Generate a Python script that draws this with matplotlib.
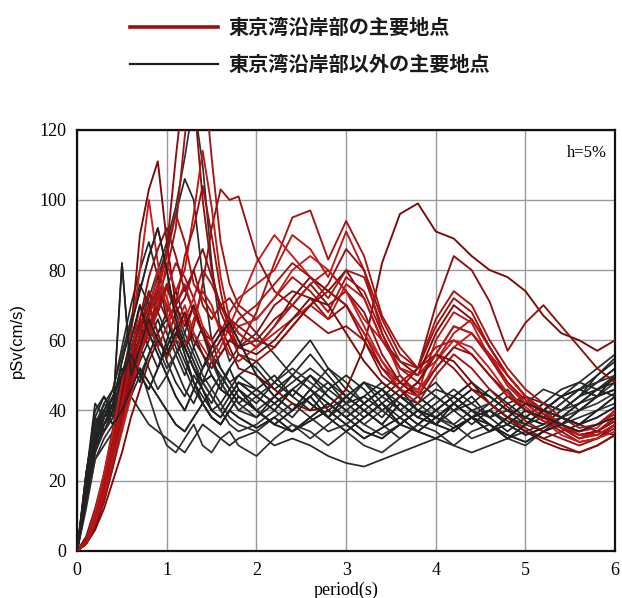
import numpy as np
import matplotlib
matplotlib.use("Agg")
import matplotlib.pyplot as plt
from matplotlib.lines import Line2D

# Natural period grid (s): 0.1 s steps up to 1.8 s, then 0.2 s steps
period = [0.0, 0.1, 0.2, 0.3, 0.4, 0.5, 0.6, 0.7, 0.8, 0.9,
          1.0, 1.1, 1.2, 1.3, 1.4, 1.5, 1.6, 1.7, 1.8,
          2.0, 2.2, 2.4, 2.6, 2.8, 3.0, 3.2, 3.4, 3.6, 3.8, 4.0,
          4.2, 4.4, 4.6, 4.8, 5.0, 5.2, 5.4, 5.6, 5.8, 6.0]

# Pseudo velocity response spectra, Tokyo Bay coastal sites (cm/s)
coastal_01 = [0, 4, 12, 22, 35, 48, 55, 60, 68, 72, 66, 70, 75, 68, 62, 60, 64, 58, 52,
              50, 46, 42, 40, 41, 46, 58, 82, 96, 99, 91, 89, 84, 80, 78, 74, 67, 62, 60, 57, 60]
coastal_02 = [0, 3, 10, 20, 30, 42, 50, 58, 62, 70, 75, 68, 72, 80, 70, 66, 70, 72, 68,
              62, 70, 74, 72, 66, 70, 62, 52, 48, 52, 70, 84, 80, 71, 57, 65, 70, 64, 58, 52, 48]
coastal_03 = [0, 2, 8, 16, 26, 38, 48, 56, 62, 68, 75, 82, 78, 72, 80, 76, 70, 64, 58,
              68, 82, 95, 97, 83, 94, 84, 67, 58, 52, 58, 60, 56, 50, 44, 40, 37, 35, 33, 34, 38]
coastal_04 = [0, 3, 9, 18, 28, 40, 52, 60, 66, 58, 64, 70, 76, 68, 62, 58, 62, 68, 72,
              76, 80, 90, 86, 78, 91, 80, 62, 50, 45, 60, 68, 65, 55, 47, 42, 38, 35, 32, 33, 36]
coastal_05 = [0, 2, 7, 14, 24, 34, 44, 55, 68, 80, 72, 64, 70, 62, 58, 54, 58, 64, 70,
              82, 90, 84, 78, 74, 70, 62, 54, 48, 46, 52, 58, 62, 56, 48, 42, 38, 35, 34, 35, 40]
coastal_06 = [0, 3, 10, 20, 32, 44, 56, 64, 70, 62, 55, 60, 58, 64, 76, 92, 103, 100, 101,
              84, 74, 70, 66, 62, 64, 60, 52, 46, 42, 50, 56, 52, 46, 41, 37, 34, 32, 30, 32, 35]
coastal_07 = [0, 2, 8, 18, 30, 45, 62, 90, 103, 111, 88, 70, 64, 70, 62, 56, 60, 66, 62,
              58, 64, 72, 78, 74, 80, 72, 60, 54, 50, 62, 70, 66, 58, 50, 44, 40, 36, 33, 34, 37]
coastal_08 = [0, 2, 6, 14, 24, 36, 48, 58, 68, 76, 86, 112, 135, 130, 100, 80, 68, 62, 58,
              60, 66, 70, 76, 70, 74, 68, 56, 48, 44, 52, 58, 56, 50, 45, 40, 37, 34, 31, 32, 36]
coastal_09 = [0, 2, 7, 15, 25, 36, 46, 56, 64, 72, 80, 92, 118, 138, 140, 112, 88, 76, 70,
              66, 72, 78, 74, 68, 78, 74, 62, 52, 48, 56, 64, 62, 55, 48, 43, 39, 35, 32, 34, 38]
coastal_10 = [0, 3, 9, 19, 30, 42, 54, 66, 60, 70, 82, 74, 80, 96, 114, 98, 78, 66, 62,
              58, 62, 66, 70, 66, 76, 72, 60, 52, 50, 54, 62, 66, 58, 50, 44, 40, 36, 34, 36, 40]
coastal_11 = [0, 3, 11, 22, 34, 48, 62, 80, 100, 82, 68, 60, 66, 72, 64, 60, 56, 60, 64,
              66, 72, 80, 84, 80, 74, 64, 54, 46, 44, 54, 60, 58, 52, 45, 41, 37, 33, 31, 32, 34]
coastal_12 = [0, 2, 8, 17, 28, 40, 50, 62, 74, 68, 76, 70, 84, 92, 104, 90, 74, 62, 56,
              54, 58, 64, 70, 76, 86, 80, 66, 56, 52, 64, 72, 68, 58, 50, 44, 39, 36, 33, 34, 37]
coastal_13 = [0, 2, 6, 12, 20, 28, 38, 46, 54, 60, 56, 62, 68, 60, 56, 52, 56, 60, 58,
              56, 60, 66, 72, 70, 62, 54, 48, 44, 48, 56, 54, 48, 42, 38, 34, 31, 29, 28, 30, 33]
coastal_14 = [0, 2, 7, 16, 26, 38, 52, 66, 78, 86, 92, 84, 74, 80, 86, 78, 70, 66, 64,
              60, 58, 64, 70, 74, 70, 60, 50, 46, 52, 56, 52, 46, 42, 38, 35, 32, 30, 28, 30, 33]
coastal_15 = [0, 3, 9, 18, 28, 40, 56, 70, 62, 74, 84, 96, 88, 76, 72, 68, 64, 62, 66,
              70, 76, 82, 78, 72, 80, 78, 64, 54, 52, 66, 74, 70, 60, 52, 46, 42, 38, 35, 36, 39]
coastal_16 = [0, 2, 8, 16, 26, 36, 46, 56, 66, 76, 70, 64, 58, 66, 74, 70, 62, 56, 54,
              58, 64, 70, 76, 80, 74, 66, 60, 52, 50, 56, 64, 62, 56, 50, 44, 40, 36, 33, 33, 36]

# Pseudo velocity response spectra, other major sites (cm/s)
inland_01 = [0, 22, 38, 34, 40, 82, 50, 58, 66, 60, 56, 62, 58, 52, 48, 50, 46, 44, 48,
             44, 40, 46, 42, 38, 44, 40, 36, 42, 38, 36, 42, 38, 34, 38, 42, 40, 44, 46, 44, 50]
inland_02 = [0, 18, 34, 40, 36, 44, 52, 62, 70, 78, 86, 96, 106, 100, 78, 60, 52, 48, 50,
             54, 48, 44, 50, 46, 42, 48, 44, 40, 44, 48, 42, 38, 42, 46, 40, 38, 42, 46, 48, 52]
inland_03 = [0, 16, 30, 38, 42, 48, 56, 64, 72, 80, 88, 98, 112, 128, 110, 82, 62, 54, 58,
             62, 56, 50, 46, 52, 48, 42, 46, 50, 44, 40, 44, 48, 42, 38, 42, 46, 44, 40, 44, 48]
inland_04 = [0, 20, 36, 42, 38, 46, 54, 48, 56, 62, 54, 48, 44, 50, 46, 42, 48, 52, 46,
             42, 48, 54, 60, 52, 46, 42, 38, 44, 40, 36, 40, 44, 38, 34, 38, 42, 40, 44, 48, 52]
inland_05 = [0, 14, 28, 36, 40, 50, 60, 70, 62, 56, 50, 44, 40, 46, 52, 58, 62, 65, 60,
             50, 44, 40, 46, 42, 38, 42, 46, 40, 36, 40, 44, 40, 36, 32, 36, 40, 38, 36, 40, 44]
inland_06 = [0, 12, 26, 30, 34, 38, 44, 40, 36, 34, 32, 30, 28, 32, 36, 34, 32, 30, 32,
             34, 30, 32, 30, 27, 25, 24, 26, 28, 30, 32, 30, 28, 30, 32, 34, 32, 34, 36, 34, 33]
inland_07 = [0, 15, 30, 34, 38, 42, 48, 52, 44, 36, 30, 28, 32, 36, 30, 28, 32, 34, 30,
             27, 32, 36, 34, 30, 34, 30, 28, 32, 36, 34, 30, 34, 36, 32, 30, 34, 36, 38, 40, 42]
inland_08 = [0, 20, 40, 44, 38, 48, 56, 64, 58, 52, 60, 68, 60, 54, 48, 44, 40, 44, 48,
             46, 42, 38, 44, 48, 42, 38, 42, 46, 40, 38, 42, 46, 44, 40, 36, 40, 44, 46, 50, 54]
inland_09 = [0, 17, 32, 36, 42, 54, 64, 74, 84, 92, 80, 66, 58, 52, 46, 40, 38, 42, 46,
             40, 36, 40, 44, 38, 34, 38, 42, 36, 34, 38, 42, 38, 34, 36, 40, 38, 36, 40, 44, 46]
inland_10 = [0, 19, 35, 40, 44, 50, 58, 66, 74, 68, 62, 56, 50, 58, 64, 56, 48, 44, 40,
             38, 44, 50, 46, 40, 44, 48, 42, 38, 42, 46, 44, 40, 38, 42, 44, 40, 38, 42, 46, 50]
inland_11 = [0, 14, 28, 34, 38, 44, 50, 58, 64, 70, 76, 70, 62, 56, 50, 46, 42, 38, 36,
             34, 38, 42, 38, 34, 36, 40, 36, 32, 36, 40, 36, 32, 34, 38, 36, 34, 38, 40, 42, 45]
inland_12 = [0, 21, 42, 38, 44, 52, 46, 54, 60, 66, 58, 52, 46, 42, 48, 54, 50, 46, 42,
             46, 50, 44, 40, 46, 50, 46, 40, 44, 48, 44, 40, 42, 46, 42, 38, 36, 40, 44, 50, 55]
inland_13 = [0, 16, 32, 40, 36, 40, 46, 52, 48, 44, 40, 36, 34, 38, 42, 38, 36, 40, 44,
             40, 36, 34, 38, 42, 38, 34, 32, 36, 40, 36, 34, 38, 40, 36, 33, 35, 38, 36, 38, 41]
inland_14 = [0, 18, 34, 42, 46, 56, 66, 76, 70, 62, 68, 74, 66, 58, 52, 56, 52, 48, 44,
             40, 44, 48, 52, 48, 44, 48, 46, 42, 38, 42, 46, 42, 38, 40, 44, 42, 40, 44, 46, 49]
inland_15 = [0, 13, 26, 32, 36, 42, 48, 56, 64, 58, 52, 56, 60, 54, 48, 44, 40, 36, 34,
             36, 40, 36, 32, 36, 40, 36, 33, 36, 40, 38, 35, 38, 40, 37, 34, 36, 40, 42, 44, 46]
inland_16 = [0, 20, 38, 44, 40, 46, 54, 60, 68, 74, 70, 64, 58, 62, 56, 50, 46, 52, 56,
             52, 46, 50, 56, 50, 44, 40, 44, 48, 44, 40, 44, 48, 44, 40, 38, 42, 46, 48, 46, 44]
inland_17 = [0, 15, 30, 38, 44, 50, 56, 50, 46, 52, 58, 64, 56, 48, 42, 38, 36, 40, 38,
             35, 38, 34, 37, 40, 36, 32, 35, 38, 34, 32, 35, 38, 36, 33, 31, 34, 36, 34, 36, 38]
inland_18 = [0, 22, 36, 40, 46, 58, 70, 80, 88, 78, 66, 58, 52, 46, 42, 46, 50, 46, 42,
             38, 42, 46, 42, 38, 42, 44, 40, 36, 40, 44, 40, 36, 40, 44, 42, 40, 44, 48, 52, 56]
inland_19 = [0, 16, 31, 36, 40, 46, 52, 58, 52, 46, 50, 56, 62, 70, 62, 54, 48, 44, 40,
             44, 48, 52, 48, 44, 40, 36, 40, 44, 42, 38, 36, 40, 42, 38, 36, 38, 42, 46, 48, 50]
inland_20 = [0, 18, 33, 38, 42, 48, 44, 50, 56, 62, 66, 60, 54, 48, 44, 40, 42, 46, 50,
             46, 42, 46, 50, 44, 40, 44, 48, 44, 40, 38, 42, 46, 44, 40, 38, 36, 38, 42, 46, 48]

coastal_sites = [coastal_01, coastal_02, coastal_03, coastal_04, coastal_05, coastal_06,
                 coastal_07, coastal_08, coastal_09, coastal_10, coastal_11, coastal_12,
                 coastal_13, coastal_14, coastal_15, coastal_16]
inland_sites = [inland_01, inland_02, inland_03, inland_04, inland_05, inland_06,
                inland_07, inland_08, inland_09, inland_10, inland_11, inland_12,
                inland_13, inland_14, inland_15, inland_16, inland_17, inland_18,
                inland_19, inland_20]

legend_labels = ["東京湾沿岸部の主要地点", "東京湾沿岸部以外の主要地点"]
x_ticks = [0, 1, 2, 3, 4, 5, 6]
y_ticks = [0, 20, 40, 60, 80, 100, 120]

red_shades = ["#7a0909", "#8e0f0f", "#a51414", "#b81818", "#c41e1e", "#9c1010"]
dark_shades = ["#1b1b1b", "#262a27", "#303030", "#1f2622"]

fig = plt.figure(figsize=(6.22, 5.98), dpi=100)
ax = fig.add_axes([0.124, 0.079, 0.865, 0.704])

for i, s in enumerate(inland_sites):
    ax.plot(period, s, color=dark_shades[i % len(dark_shades)], lw=1.25,
            solid_joinstyle="round", zorder=2)
for i, s in enumerate(coastal_sites):
    ax.plot(period, s, color=red_shades[i % len(red_shades)], lw=1.35,
            solid_joinstyle="round", zorder=3)
# redraw a few inland spectra on top so the two groups interleave
for s in inland_sites[::4]:
    ax.plot(period, s, color="#222222", lw=1.15, solid_joinstyle="round", zorder=4)

ax.set_xlim(0, 6)
ax.set_ylim(0, 120)
ax.set_xticks(x_ticks)
ax.set_yticks(y_ticks)
serif = "Liberation Serif"
ax.set_xticklabels([str(v) for v in x_ticks], family=serif, fontsize=13)
ax.set_yticklabels([str(v) for v in y_ticks], family=serif, fontsize=13)
ax.tick_params(length=0, pad=8)
ax.grid(True, color="#9a9a9a", lw=1.0)
ax.set_axisbelow(True)
for sp in ax.spines.values():
    sp.set_linewidth(1.6)
    sp.set_color("#111111")

ax.set_xlabel("period(s)", family=serif, fontsize=13, labelpad=2)
ax.set_ylabel("pSv(cm/s)", family="Liberation Sans", fontsize=12, labelpad=10)
ax.text(0.985, 0.965, "h=5%", transform=ax.transAxes, ha="right", va="top",
        family=serif, fontsize=12)

# Legend drawn in figure coordinates above the plot
cjk = ["Noto Sans CJK JP", "DejaVu Sans"]
fig.add_artist(Line2D([130 / 622, 218 / 622], [1 - 27 / 598, 1 - 27 / 598],
                      color="#9e1010", lw=2.6))
fig.add_artist(Line2D([130 / 622, 218 / 622], [1 - 64 / 598, 1 - 64 / 598],
                      color="#1e1e1e", lw=1.6))
fig.text(228 / 622, 1 - 27 / 598, legend_labels[0], family=cjk, fontsize=14.5,
         fontweight="bold", va="center", ha="left", color="#1a1a1a")
fig.text(228 / 622, 1 - 64 / 598, legend_labels[1], family=cjk, fontsize=14.5,
         fontweight="bold", va="center", ha="left", color="#1a1a1a")

fig.savefig("out.png", dpi=100)
